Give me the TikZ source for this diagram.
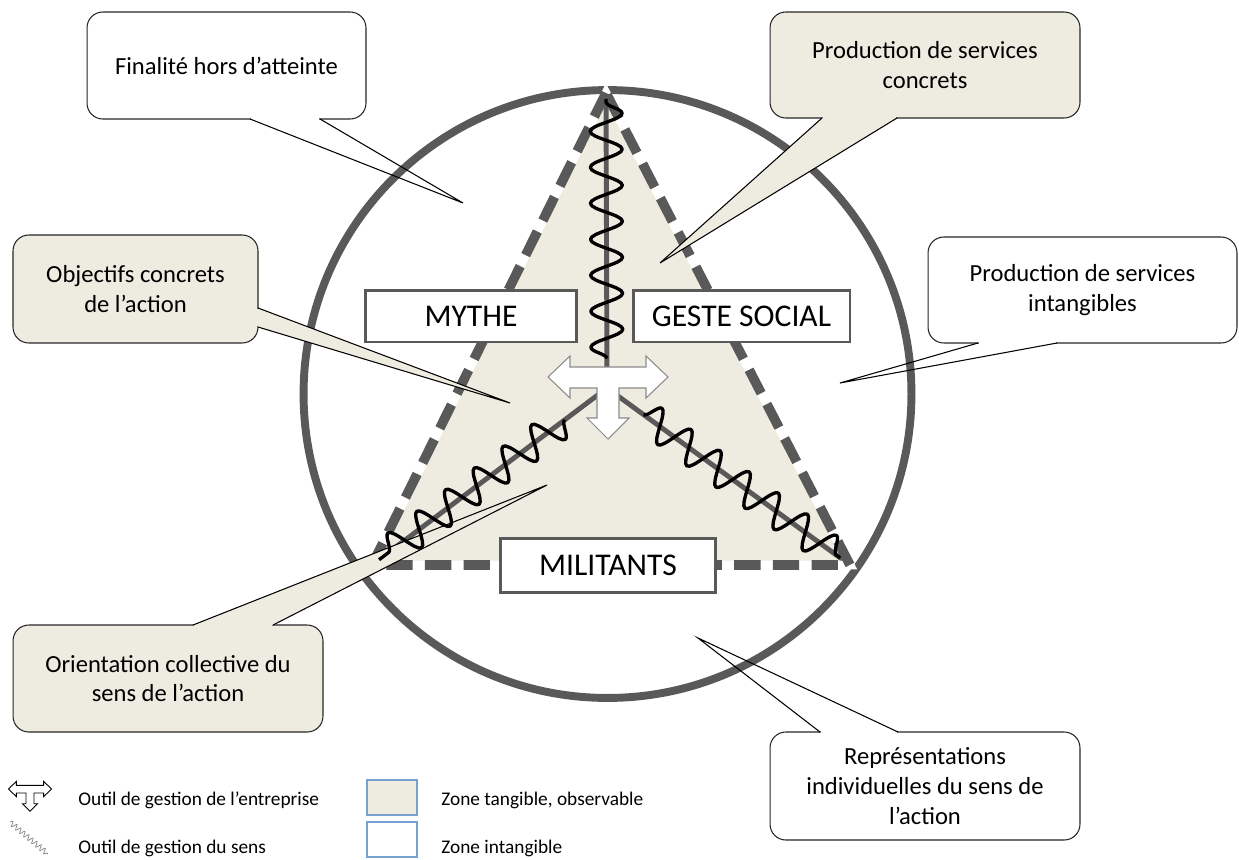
\documentclass[tikz,border=0pt]{standalone}
\usepackage{fontspec}
\setmainfont{Carlito}
\usepackage{tikz}
\usetikzlibrary{calc,positioning,decorations.pathmorphing}

\definecolor{beige}{RGB}{238,236,225}
\definecolor{trait}{RGB}{89,89,89}
\definecolor{bleu}{RGB}{120,160,210}

\begin{document}
\begin{tikzpicture}[x=0.02cm,y=-0.02cm,
	bulle/.style={draw=black!85,line width=0.6pt,rounded corners=9pt,align=center,font=\fontsize{14}{17}\selectfont},
	etiquette/.style={draw=trait,line width=1.7pt,fill=white,font=\fontsize{18}{22}\selectfont,minimum height=1.04cm},
	legende/.style={inner sep=0pt,font=\fontsize{11}{13}\selectfont},
	ressort/.style={draw=black,line width=1.9pt,line join=round,decorate,decoration={snake,segment length=0.72cm,amplitude=0.32cm}},
	outil/.pic={\draw[pic actions] (-60,0) -- (-38,-21) -- (-38,-10) -- (38,-10) -- (38,-21) -- (60,0) -- (38,21) -- (38,11) -- (11,11) -- (11,41) -- (21,41) -- (0,62) -- (-21,41) -- (-11,41) -- (-11,11) -- (-38,11) -- (-38,21) -- cycle;}]
	\useasboundingbox (0,0) rectangle (1239,859);

	\coordinate (centre) at (607.5,394);
	\coordinate (sommet) at (606,93);
	\coordinate (bg) at (372,565);
	\coordinate (bd) at (850,565);
	\coordinate (ctr) at (607,388);

	\draw[trait,line width=4.5pt] (centre) circle[radius=6.08cm];

	% triangle
	\fill[beige] (sommet) -- (bg) -- (bd) -- cycle;
	\draw[trait,line width=2.8pt] (ctr) -- (sommet);
	\draw[trait,line width=2.8pt] (ctr) -- (bg);
	\draw[trait,line width=2.8pt] (ctr) -- (bd);
	\draw[white,line width=5pt] (sommet) -- (bg) -- (bd) -- cycle;
	\draw[trait,line width=5.5pt,dash pattern=on 15pt off 7pt] (sommet) -- (bg) -- (bd) -- cycle;

	% bulles
	\node[bulle,fill=white,minimum width=5.58cm,minimum height=2.14cm] (fin) at (226.5,65.5) {Finalité hors d’atteinte};
	\coordinate (fin-a) at (250,119);
	\coordinate (fin-b) at (320,119);
	\coordinate (fin-p) at (463,203);
	\draw[white,line width=1.5pt,shorten <=0.6pt,shorten >=0.6pt] (fin-a) -- (fin-b);
	\draw[line width=0.6pt] (fin-a) -- (fin-p) -- (fin-b);

	\node[bulle,fill=beige,minimum width=6.2cm,minimum height=2.12cm] (concrets) at (925,65) {Production de services\\concrets};
	\coordinate (concrets-a) at (822,118);
	\coordinate (concrets-b) at (897,118);
	\coordinate (concrets-p) at (660,263);
	\fill[beige] (concrets-a) -- (concrets-p) -- (concrets-b) -- cycle;
	\draw[beige,line width=1.5pt,shorten <=0.6pt,shorten >=0.6pt] (concrets-a) -- (concrets-b);
	\draw[line width=0.6pt] (concrets-a) -- (concrets-p) -- (concrets-b);

	\node[bulle,fill=beige,minimum width=4.9cm,minimum height=2.16cm] (objectifs) at (135.5,289) {Objectifs concrets\\de l’action};
	\coordinate (objectifs-a) at (258,308);
	\coordinate (objectifs-b) at (258,327);
	\coordinate (objectifs-p) at (510,403);
	\fill[beige] (objectifs-a) -- (objectifs-p) -- (objectifs-b) -- cycle;
	\draw[beige,line width=1.5pt,shorten <=0.6pt,shorten >=0.6pt] (objectifs-a) -- (objectifs-b);
	\draw[line width=0.6pt] (objectifs-a) -- (objectifs-p) -- (objectifs-b);

	\node[bulle,fill=white,minimum width=6.18cm,minimum height=2.12cm] (intangibles) at (1082.5,290) {Production de services\\intangibles};
	\coordinate (intangibles-a) at (978,343);
	\coordinate (intangibles-b) at (1057,343);
	\coordinate (intangibles-p) at (840,383);
	\draw[white,line width=1.5pt,shorten <=0.6pt,shorten >=0.6pt] (intangibles-a) -- (intangibles-b);
	\draw[line width=0.6pt] (intangibles-a) -- (intangibles-p) -- (intangibles-b);

	\node[bulle,fill=white,minimum width=6.2cm,minimum height=2.16cm] (repres) at (925,786) {Représentations\\individuelles du sens de\\l’action};
	\coordinate (repres-a) at (820,732);
	\coordinate (repres-b) at (898,732);
	\coordinate (repres-p) at (698,638);
	\draw[white,line width=1.5pt,shorten <=0.6pt,shorten >=0.6pt] (repres-a) -- (repres-b);
	\draw[line width=0.6pt] (repres-a) -- (repres-p) -- (repres-b);

	\node[bulle,fill=beige,minimum width=6.2cm,minimum height=2.14cm] (orient) at (168,678.5) {Orientation collective du\\sens de l’action};
	\coordinate (orient-a) at (193,625);
	\coordinate (orient-b) at (273,625);
	\coordinate (orient-p) at (547,485);
	\fill[beige] (orient-a) -- (orient-p) -- (orient-b) -- cycle;
	\draw[beige,line width=1.5pt,shorten <=0.6pt,shorten >=0.6pt] (orient-a) -- (orient-b);
	\draw[line width=0.6pt] (orient-a) -- (orient-p) -- (orient-b);

	% ressorts
	\draw[ressort] ($(ctr)!0.1!(sommet)$) -- ($(ctr)!0.98!(sommet)$);
	\draw[ressort] ($(ctr)!0.18!(bg)$) -- ($(ctr)!0.97!(bg)$);
	\draw[ressort] ($(ctr)!0.15!(bd)$) -- ($(ctr)!0.96!(bd)$);

	\node[etiquette,minimum width=4.24cm] (mythe) at (471,316) {MYTHE};
	\node[etiquette,minimum width=4.34cm] (geste) at (741.5,316) {GESTE SOCIAL};
	\node[etiquette,minimum width=4.32cm,minimum height=1.08cm] (militants) at (608,565) {MILITANTS};

	\pic[fill=white,draw=trait!70,line width=0.6pt] at (608,377) {outil};

	% legende
	\pic[fill=white,draw=black,line width=0.5pt,scale=0.36] at (30,789) {outil};
	\coordinate (l-a) at (10,822);
	\coordinate (l-b) at (48,854);
	\draw[gray,line width=0.4pt,decorate,decoration={snake,segment length=3pt,amplitude=1.5pt}] (l-a) -- (l-b);
	\node[legende,anchor=west] (l1) at (78,800) {Outil de gestion de l’entreprise};
	\node[legende,anchor=west] (l2) at (78,848) {Outil de gestion du sens};
	\node[draw=bleu,fill=beige,line width=0.8pt,minimum width=1cm,minimum height=0.7cm] (zt) at (392,797.5) {};
	\node[draw=bleu,fill=white,line width=0.8pt,minimum width=1cm,minimum height=0.7cm] (zi) at (392,839.5) {};
	\node[legende,anchor=west] (l3) at (441,800) {Zone tangible, observable};
	\node[legende,anchor=west] (l4) at (441,848) {Zone intangible};
\end{tikzpicture}
\end{document}
